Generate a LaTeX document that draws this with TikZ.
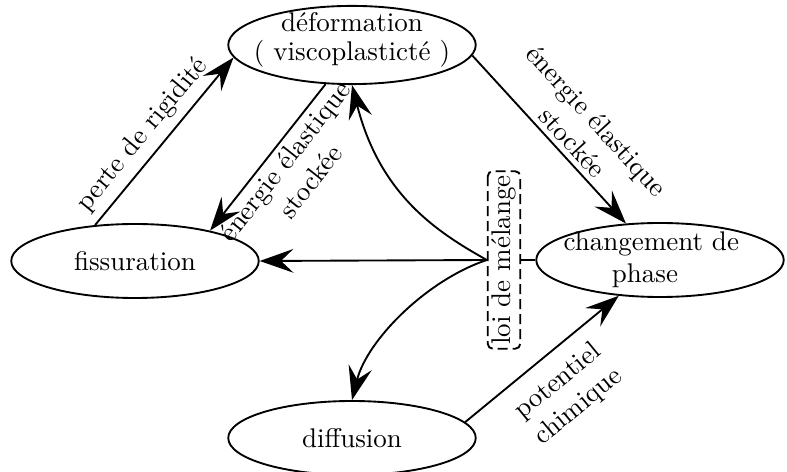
\documentclass[tikz,border=0pt]{standalone}
\usetikzlibrary{arrows.meta,shapes.geometric}
\begin{document}
\begin{tikzpicture}[x=0.4pt,y=-0.4pt,
  font=\fontsize{10.8pt}{13pt}\selectfont,
  state/.style={draw, ellipse, line width=0.75pt, minimum width=99pt, minimum height=29.6pt, inner xsep=-7pt, inner ysep=-2pt, align=center},
  arr/.style={-{Stealth[length=13.5pt,width=9.5pt,inset=5pt]}, line width=0.75pt},
  lab/.style={align=center, sloped, midway, inner sep=2pt},
  mixbox/.style={draw, dash pattern=on 4pt off 2pt, rounded corners=2pt, rotate=90, minimum width=71pt, minimum height=13pt, inner sep=1pt, line width=0.75pt}]
\useasboundingbox (0,0) rectangle (787,472);
\node[state, font=\fontsize{10.8pt}{11.5pt}\selectfont, text depth=7pt] (def) at (352,45) {déformation\\( viscoplasticté )};
\node[state] (fiss) at (135,261) {fissuration};
\node[state] (chg) at (660,260) {changement de\hspace*{7pt}\\phase\hspace*{12pt}};
\node[state] (diff) at (352,438) {diffusion};
\node[mixbox] (loi) at (504,260) {loi de mélange};

\draw[arr] (fiss.138) -- node[lab, above=1pt, pos=0.46] {perte de rigidité} (def.186);
\draw[arr] (def.236) -- node[lab, below, pos=0.46] {énergie élastique\\stockée} (fiss.22);
\draw[arr] (def.-5) -- node[lab, above, pos=0.58] {énergie élastique\\stockée} (chg.133);
\draw[arr] (diff.8) -- node[lab, below=4pt, pos=0.49] {potentiel\\chimique} (chg.221);
\draw[line width=0.75pt] (loi.south) -- (chg.west);
\draw[arr] (loi.north) -- (fiss.east);
\draw[arr] (loi.north) .. controls +(-50,-28) and +(28,110) .. (def.south);
\draw[arr] (loi.north) .. controls +(-60,20) and +(15,-60) .. (diff.north);
\end{tikzpicture}
\end{document}
